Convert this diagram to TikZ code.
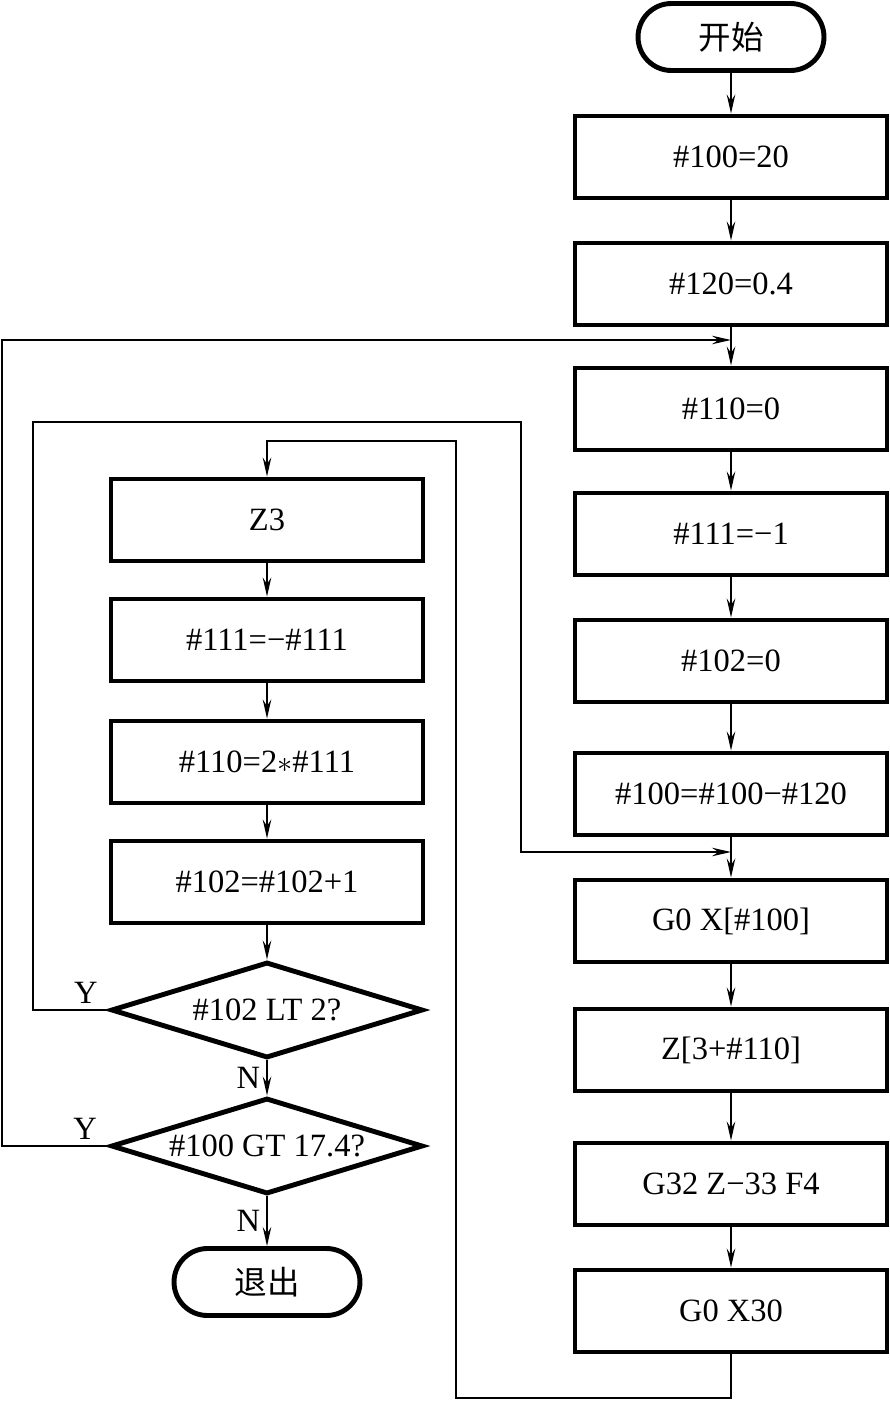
\documentclass[tikz,border=0pt]{standalone}
\usepackage{fontspec}
\setmainfont{Liberation Serif}
\newfontfamily\cjk{Noto Sans CJK SC}
\usetikzlibrary{shapes.geometric,arrows.meta}

\begin{document}
\begin{tikzpicture}[x=0.02cm,y=-0.02cm,>={Stealth[length=3.8mm,width=1.7mm,inset=1.3mm]},
    line width=1.2pt,
    every node/.style={font=\fontsize{18.5}{22}\selectfont},
    box/.style={draw,line width=2.8pt,minimum width=6.24cm,minimum height=1.64cm,inner sep=0pt},
    term/.style={draw,line width=2.8pt,rounded corners=0.67cm,minimum width=3.72cm,minimum height=1.34cm,inner sep=0pt},
    test/.style={draw,diamond,line width=2.8pt,aspect=3.25,minimum width=6.24cm,minimum height=1.92cm,inner sep=0pt}]
    \useasboundingbox (0,0) rectangle (889,1409);

    % right column
    \node[term] (start) at (731,37) {\cjk 开始};
    \node[box] (r1) at (731,157) {\#100=20};
    \node[box] (r2) at (731,284) {\#120=0.4};
    \node[box] (r3) at (731,409) {\#110=0};
    \node[box] (r4) at (731,534) {\#111=−1};
    \node[box] (r5) at (731,661) {\#102=0};
    \node[box] (r6) at (731,794) {\#100=\#100−\#120};
    \node[box] (r7) at (731,921) {G0 X[\#100]};
    \node[box] (r8) at (731,1050) {Z[3+\#110]};
    \node[box] (r9) at (731,1184) {G32 Z−33 F4};
    \node[box] (r10) at (731,1311) {G0 X30};

    % left column
    \node[box] (l1) at (267,520) {Z3};
    \node[box] (l2) at (267,640) {\#111=−\#111};
    \node[box] (l3) at (267,762) {\#110=2$\ast$\#111};
    \node[box] (l4) at (267,882) {\#102=\#102+1};
    \node[test] (d1) at (267,1010) {\#102 LT 2?};
    \node[test] (d2) at (267,1146) {\#100 GT 17.4?};
    \node[term] (stop) at (267,1282) {\cjk 退出};

    \coordinate (m1) at (731,340);
    \coordinate (m2) at (731,852);

    \foreach \a/\b in {start/r1,r1/r2,r2/r3,r3/r4,r4/r5,r5/r6,r6/r7,r7/r8,r8/r9,r9/r10,l1/l2,l2/l3,l3/l4,l4/d1}
        \draw[->] (\a) -- (\b);

    \draw[->] (d1) -- (d2) node[midway,left] {N};
    \draw[->] (d2) -- (stop) node[midway,left] {N};

    % loops
    \draw[->] (r10.south) -- (731,1398) -| (456,441) -| (l1.north);
    \draw[->] (d1.west) -- (33,1010) node[pos=0.3,above] {Y} |- (521,422) |- (m2);
    \draw[->] (d2.west) -- (2,1146) node[pos=0.22,above] {Y} |- (m1);
\end{tikzpicture}
\end{document}
